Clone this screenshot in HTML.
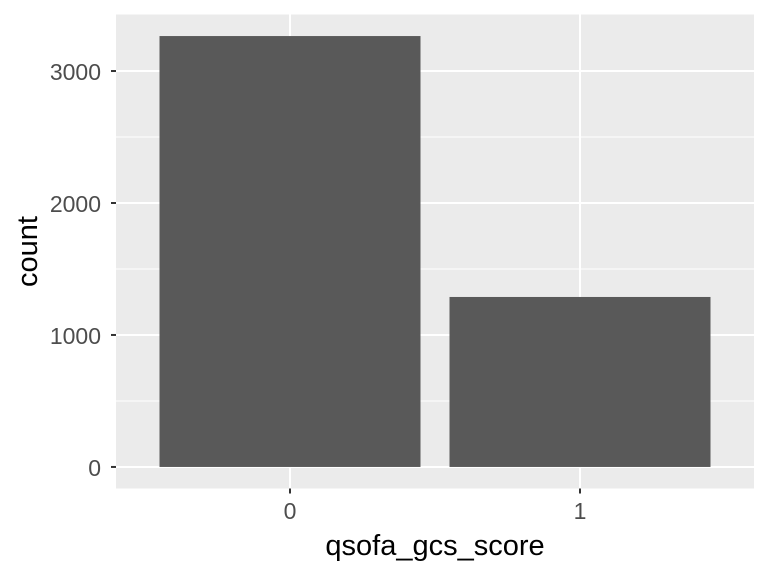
<!DOCTYPE html>
<html><head><meta charset="utf-8"><style>body{margin:0;background:#fff}svg{display:block;font-family:"Liberation Sans",sans-serif}</style></head>
<body>
<svg id="chart" width="768" height="576"></svg>
<script>
const categories = ["0","1"];
const counts = [3265, 1288];
const yTicks = [0,1000,2000,3000];
const yMinor = [500,1500,2500];
const NS="http://www.w3.org/2000/svg";
const svg=document.getElementById('chart');
const pl=116,pr=754,pt=14.5,pb=488.5;
const ymax=Math.max(...counts)*1.05, ymin=-Math.max(...counts)*0.05;
const y=v=>pb-(v-ymin)/(ymax-ymin)*(pb-pt);
const n=categories.length;
const step=(pr-pl)/(n+0.2);
const x=i=>pl+step*(i+0.6);
function mk(t,a,name){const e=document.createElementNS(NS,t);for(const k in a)e.setAttribute(k,a[k]);


svg.appendChild(e);return e;}
mk('rect',{x:pl,y:pt,width:pr-pl,height:pb-pt,fill:'#ebebeb'},'panel-background');
yMinor.forEach(v=>mk('line',{x1:pl,x2:pr,y1:y(v),y2:y(v),stroke:'#fff','stroke-width':1},'minor-gridline'));
yTicks.forEach(v=>mk('line',{x1:pl,x2:pr,y1:y(v),y2:y(v),stroke:'#fff','stroke-width':2},'major-gridline'));
categories.forEach((c,i)=>mk('line',{x1:x(i),x2:x(i),y1:pt,y2:pb,stroke:'#fff','stroke-width':2},'x-gridline'));
counts.forEach((v,i)=>mk('rect',{x:x(i)-step*0.45,y:y(v),width:step*0.9,height:y(0)-y(v),fill:'#595959'},'bar-'+categories[i]));
yTicks.forEach(v=>{mk('line',{x1:pl-5,x2:pl,y1:y(v),y2:y(v),stroke:'#333','stroke-width':2},'y-tick');
const t=mk('text',{x:pl-15,y:y(v)+9,'text-anchor':'end','font-size':23,fill:'#4d4d4d'},'y-tick-label');t.textContent=v;});
categories.forEach((c,i)=>{mk('line',{x1:x(i),x2:x(i),y1:pb,y2:pb+5,stroke:'#333','stroke-width':2},'x-tick');
const t=mk('text',{x:x(i),y:519,'text-anchor':'middle','font-size':23,fill:'#4d4d4d'},'x-tick-label');t.textContent=c;});
const xt=mk('text',{x:(pl+pr)/2,y:555,'text-anchor':'middle','font-size':29,fill:'#000'},'x-axis-title');xt.textContent='qsofa_gcs_score';
const yt=mk('text',{x:0,y:0,'text-anchor':'middle','font-size':29,fill:'#000',transform:`translate(37,${(pt+pb)/2}) rotate(-90)`},'y-axis-title');yt.textContent='count';
</script>
</body></html>
